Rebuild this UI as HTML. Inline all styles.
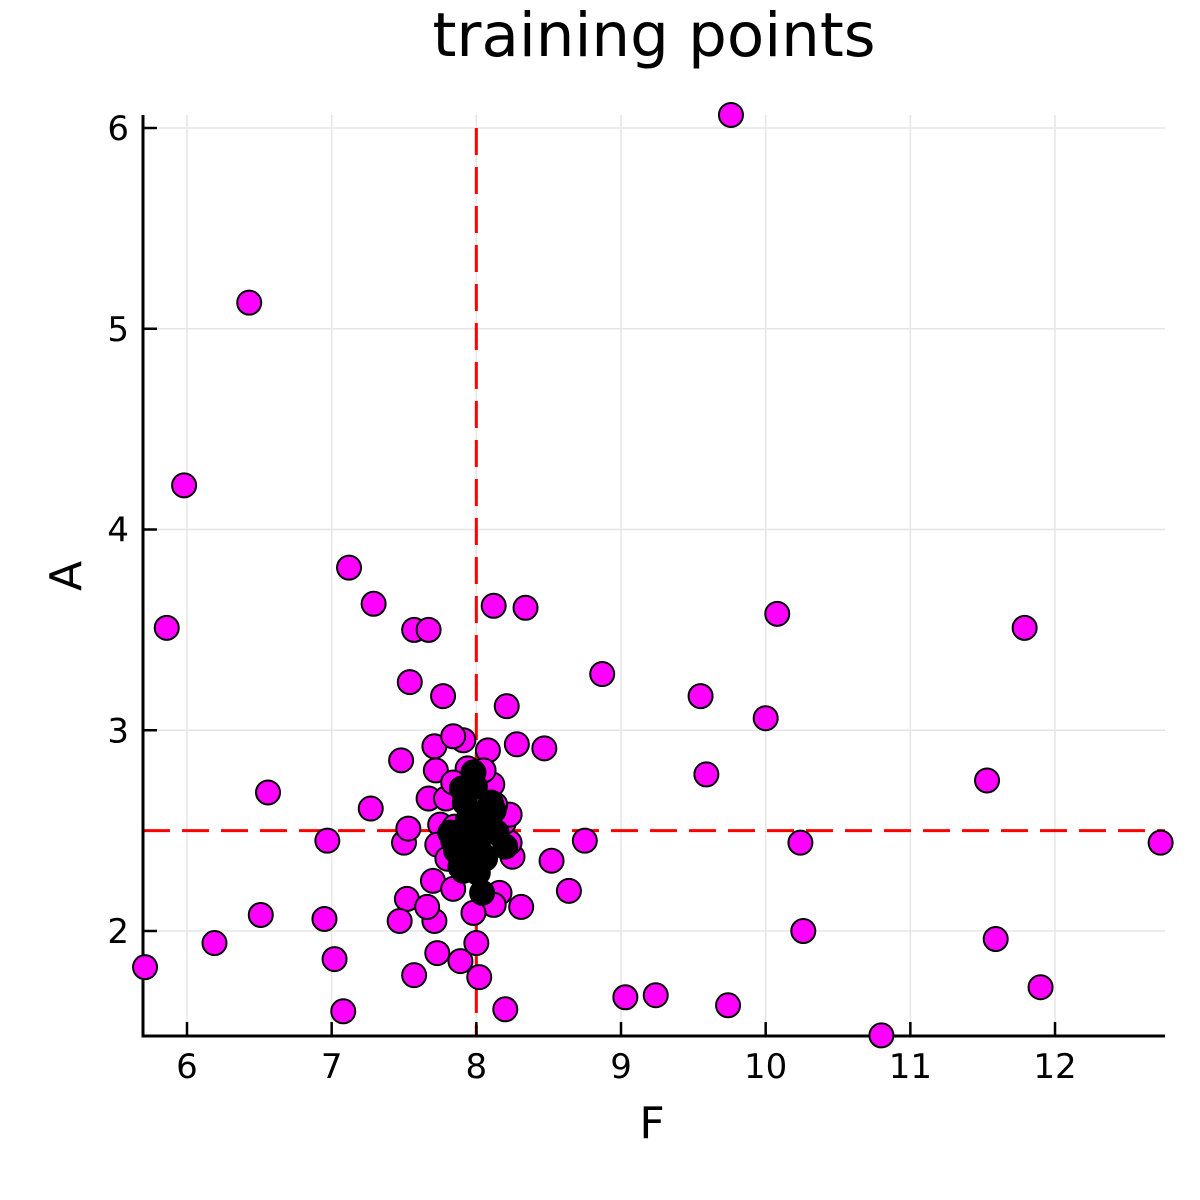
<!DOCTYPE html>
<html><head><meta charset="utf-8"><style>
body{margin:0;background:#fff}
svg{display:block;font-family:"DejaVu Sans","Liberation Sans",sans-serif}
</style></head><body>
<svg id="chart" width="1200" height="1200" viewBox="0 0 1200 1200">
<rect width="1200" height="1200" fill="#fff"/>
<text x="654" y="56" font-size="61" text-anchor="middle">training points</text>
<g id="grid"></g>
<g id="refs"></g>
<g id="axes"></g>
<g id="pts"></g>
<text x="652" y="1138" font-size="44" text-anchor="middle">F</text>
<text x="0" y="0" font-size="44" text-anchor="middle" transform="translate(81,576) rotate(-90)">A</text>
</svg>
<script>
const xTicks=[6,7,8,9,10,11,12];
const yTicks=[2,3,4,5,6];
const magF=[9.76,6.43,5.98,5.86,5.71,7.12,7.29,7.57,7.67,8.12,8.34,7.54,7.77,8.87,9.55,10.08,10.00,9.59,11.79,11.53,12.73,10.24,10.26,11.59,11.90,10.80,9.74,9.24,9.03,8.20,7.08,7.02,7.57,7.73,7.89,8.02,8.00,6.19,6.51,6.95,6.97,6.56,7.27,7.48,7.50,7.53,7.52,7.47,7.71,7.66,7.70,7.71,7.91,7.84,8.08,8.28,8.47,8.21,8.75,8.52,8.64,8.31,8.16,8.12,7.98,7.72,7.67,7.79,7.75,7.73,7.80,7.84,8.25,8.23,8.19,8.23,8.11,8.05,7.94,8.13,7.85,7.84];
const magA=[6.065,5.13,4.22,3.51,1.82,3.81,3.63,3.50,3.50,3.62,3.61,3.24,3.17,3.28,3.17,3.58,3.06,2.78,3.51,2.75,2.44,2.44,2.00,1.96,1.72,1.48,1.63,1.68,1.67,1.61,1.60,1.86,1.78,1.89,1.85,1.77,1.94,1.94,2.08,2.06,2.45,2.69,2.61,2.85,2.44,2.51,2.16,2.05,2.05,2.12,2.25,2.92,2.95,2.97,2.90,2.93,2.91,3.12,2.45,2.35,2.20,2.12,2.19,2.13,2.09,2.80,2.66,2.66,2.53,2.43,2.36,2.21,2.37,2.44,2.54,2.58,2.73,2.80,2.81,2.63,2.52,2.74];
const blkF=[7.98,7.90,7.92,8.10,8.03,8.09,7.82,7.89,8.01,8.14,8.20,7.89,8.01,8.04,7.94,8.03,8.07,7.94,7.99,7.86,7.84,8.12,8.06,7.91];
const blkA=[2.79,2.71,2.64,2.64,2.58,2.55,2.49,2.44,2.47,2.49,2.42,2.32,2.29,2.19,2.39,2.39,2.52,2.55,2.72,2.40,2.45,2.60,2.36,2.30];
const refF=8, refA=2.5;
const X0=143,X1=1165,Y0=1036,Y1=115;
const sx=v=>187+(v-6)*144.67;
const sy=v=>931-(v-2)*200.75;
const NS="http://www.w3.org/2000/svg";
function mk(t,a,p){const e=document.createElementNS(NS,t);for(const k in a)e.setAttribute(k,a[k]);p.appendChild(e);return e;}
const grid=document.getElementById('grid'),axes=document.getElementById('axes'),pts=document.getElementById('pts'),refs=document.getElementById('refs');
xTicks.forEach(t=>{
 const l=mk('line',{x1:sx(t),x2:sx(t),y1:Y1,y2:Y0,stroke:'#e6e6e6','stroke-width':1.5},grid);
 
 
 const tk=mk('line',{x1:sx(t),x2:sx(t),y1:Y0,y2:Y0-14,stroke:'#000','stroke-width':2.5},axes);
 
 
 const tx=mk('text',{x:sx(t),y:1078,'font-size':34,'text-anchor':'middle'},axes);
 tx.textContent=t;
 
 
});
yTicks.forEach(t=>{
 const l=mk('line',{x1:X0,x2:X1,y1:sy(t),y2:sy(t),stroke:'#e6e6e6','stroke-width':1.5},grid);
 
 
 const tk=mk('line',{x1:X0,x2:X0+14,y1:sy(t),y2:sy(t),stroke:'#000','stroke-width':2.5},axes);
 
 
 const tx=mk('text',{x:129,y:sy(t)+12,'font-size':34,'text-anchor':'end'},axes);
 tx.textContent=t;
 
 
});
const ax=mk('path',{d:`M${X0},${Y1} V${Y0} H${X1}`,fill:'none',stroke:'#000','stroke-width':3},axes);


magF.forEach((f,i)=>{
 const c=mk('circle',{cx:sx(f),cy:sy(magA[i]),r:12,fill:'#ff00ff',stroke:'#000','stroke-width':2},pts);
 
 
});
blkF.forEach((f,i)=>{
 const c=mk('circle',{cx:sx(f),cy:sy(blkA[i]),r:12,fill:'#000',stroke:'#000','stroke-width':2},pts);
 
 
});
const vl=mk('line',{x1:sx(refF),x2:sx(refF),y1:128,y2:Y0,stroke:'#ff0000','stroke-width':3,'stroke-dasharray':'27 12'},refs);


const hl=mk('line',{x1:X0,x2:X1,y1:sy(refA),y2:sy(refA),stroke:'#ff0000','stroke-width':3,'stroke-dasharray':'27 12'},refs);


</script>
</body></html>
